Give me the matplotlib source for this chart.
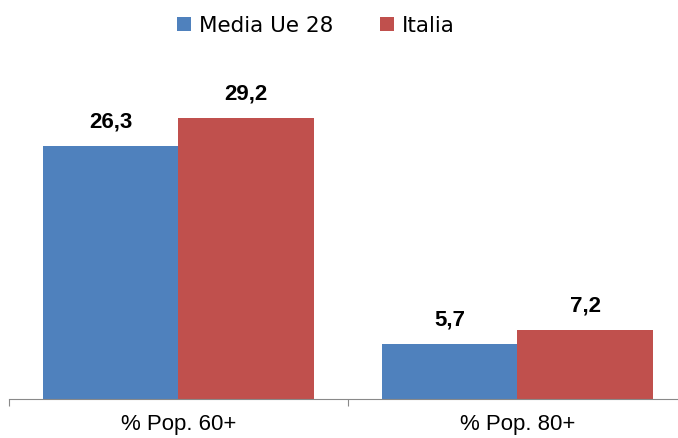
import matplotlib
matplotlib.use("Agg")
import matplotlib.pyplot as plt
import numpy as np

categories = ["% Pop. 60+", "% Pop. 80+"]
series_names = ["Media Ue 28", "Italia"]
media_ue = [26.3, 5.7]
italia = [29.2, 7.2]
value_labels_ue = ["26,3", "5,7"]
value_labels_it = ["29,2", "7,2"]

colors = ["#4F81BD", "#C0504D"]

fig = plt.figure(figsize=(6.78, 4.38), dpi=100)
ax = fig.add_axes([9/678, (438-399)/438, 678/678, (399-62)/438])

x = np.arange(len(categories))
w = 0.4
b1 = ax.bar(x - w/2, media_ue, w, color=colors[0], label=series_names[0])
b2 = ax.bar(x + w/2, italia, w, color=colors[1], label=series_names[1])

for bars, labs in ((b1, value_labels_ue), (b2, value_labels_it)):
    for r, t in zip(bars, labs):
        ax.text(r.get_x() + r.get_width()/2, r.get_height() + 1.4, t,
                ha="center", va="bottom", fontsize=16, fontweight="bold",
                family="Liberation Sans")

ax.set_xlim(-0.5, 1.5)
ax.set_ylim(0, 35)
for s in ("top", "right", "left"):
    ax.spines[s].set_visible(False)
ax.spines["bottom"].set_color("#898989")
ax.set_yticks([])
ax.set_xticks([-0.5, 0.5, 1.5], minor=False)
ax.set_xticklabels([])
ax.tick_params(axis="x", length=5, color="#898989", direction="out")
ax.set_xticks(x, minor=True)
ax.set_xticklabels(categories, minor=True, fontsize=16, family="Liberation Sans")
ax.tick_params(axis="x", which="minor", length=0, pad=11)

leg = fig.legend(handles=[b1, b2], labels=series_names, loc="upper center",
                 bbox_to_anchor=(0.466, 1.008), ncol=2, frameon=False,
                 prop={"family": "DejaVu Sans", "size": 15.5},
                 handlelength=0.65, handleheight=0.65, handletextpad=0.35,
                 columnspacing=2.2)

fig.savefig("out.png", dpi=100)
